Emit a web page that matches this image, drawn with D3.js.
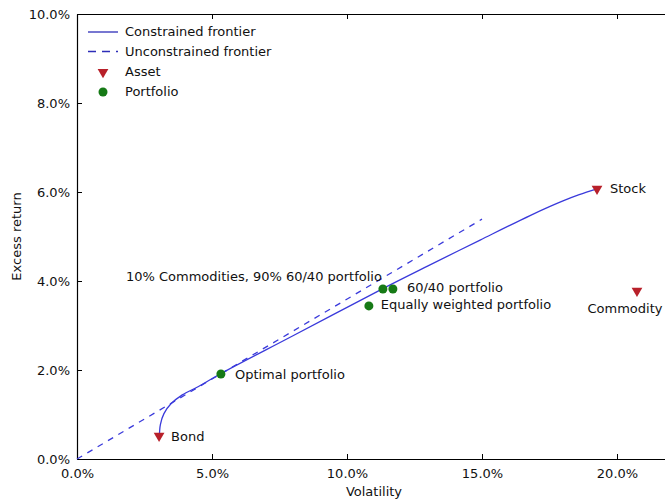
<!DOCTYPE html>
<meta charset="utf-8">
<style>
  body { margin: 0; background: #fff; }
  text { font-family: "DejaVu Sans", sans-serif; font-size: 13px; fill: #111; }
  .axis path, .axis line { stroke: #000; }
</style>
<body>
<script src="https://d3js.org/d3.v7.min.js"></script>
<script>

// frontier curves (volatility, excess return)
var constrainedFrontier = [
  [0.0305, 0.0050], [0.0309, 0.0078], [0.0322, 0.0102], [0.0348, 0.0124],
  [0.0390, 0.0144], [0.0450, 0.0163], [0.0530, 0.0191], [0.0800, 0.0277],
  [0.1133, 0.0383], [0.1300, 0.0434], [0.1493, 0.0492], [0.1678, 0.0547],
  [0.1750, 0.0567], [0.1800, 0.0580], [0.1860, 0.0594], [0.1926, 0.0607]
];
var unconstrainedFrontier = [[0.0, 0.0], [0.15, 0.0539]];

// single assets
var assetNames = ["Bond", "Stock", "Commodity"];
var assetVol = [0.0304, 0.1926, 0.2074];
var assetRet = [0.0052, 0.0607, 0.0378];

// portfolios
var portfolioNames = ["Optimal portfolio", "60/40 portfolio",
  "10% Commodities, 90% 60/40 portfolio", "Equally weighted portfolio"];
var portfolioVol = [0.0533, 0.1170, 0.1133, 0.1081];
var portfolioRet = [0.0191, 0.0382, 0.0382, 0.0344];

var xTicks = [0, 0.05, 0.10, 0.15, 0.20];
var yTicks = [0, 0.02, 0.04, 0.06, 0.08, 0.10];

var margin = { top: 14, right: -6, bottom: 40, left: 77 },
  width = 665 - margin.left - margin.right,
  height = 499 - margin.top - margin.bottom;

var x = d3.scaleLinear().domain([0, 0.22]).range([0, width]);
var y = d3.scaleLinear().domain([0, 0.10]).range([height, 0]);

var svg = d3.select("body").append("svg")
  .attr("width", 665)
  .attr("height", 499)
  .style("display", "block")
  .append("g")
  .attr("transform", "translate(" + margin.left + "," + margin.top + ")");

var fmt = d3.format(".1%");

// axes, matplotlib classic style: ticks pointing inward on all sides
svg.append("g").attr("class", "axis")
  .attr("transform", "translate(0," + height + ")")
  .call(d3.axisBottom(x).tickValues(xTicks).tickFormat(fmt).tickSizeInner(-5).tickSizeOuter(0).tickPadding(10));
svg.append("g").attr("class", "axis")
  .call(d3.axisTop(x).tickValues(xTicks).tickFormat("").tickSizeInner(-5).tickSizeOuter(0));
svg.append("g").attr("class", "axis")
  .call(d3.axisLeft(y).tickValues(yTicks).tickFormat(fmt).tickSizeInner(-5).tickSizeOuter(0).tickPadding(7));
svg.append("g").attr("class", "axis")
  .attr("transform", "translate(" + width + ",0)")
  .call(d3.axisRight(y).tickValues(yTicks).tickFormat("").tickSizeInner(-5).tickSizeOuter(0));
svg.selectAll(".axis .domain").attr("stroke-width", 1.2);
svg.selectAll(".axis text").style("font-size", "13px").attr("fill", "#222");

svg.append("text")
  .attr("x", width / 2)
  .attr("y", height + 37)
  .attr("text-anchor", "middle")
  .text("Volatility");

svg.append("text")
  .attr("transform", "rotate(-90)")
  .attr("x", -height / 2)
  .attr("y", -56)
  .attr("text-anchor", "middle")
  .text("Excess return");

var lineColor = "#3a3adb";
var line = d3.line().x(d => x(d[0])).y(d => y(d[1]));

svg.append("path")
  .datum(unconstrainedFrontier)
  .attr("fill", "none")
  .attr("stroke", lineColor)
  .attr("stroke-width", 1.3)
  .attr("stroke-dasharray", "6,6")
  .attr("d", line);

svg.append("path")
  .datum(constrainedFrontier)
  .attr("fill", "none")
  .attr("stroke", lineColor)
  .attr("stroke-width", 1.3)
  .attr("d", line.curve(d3.curveCatmullRom.alpha(0.5)));

var red = "#b8202a", green = "#167a16";
var tri = d3.symbol().type(d3.symbolTriangle).size(50);

// assets
var labelOffsets = [[12, 5], [13, 4], [-12, 22]];
assetNames.forEach(function (name, i) {
  var px = x(assetVol[i]), py = y(assetRet[i]);
  svg.append("path")
    .attr("d", tri)
    .attr("transform", "translate(" + px + "," + py + ") rotate(180)")
    .attr("fill", red);
  svg.append("text")
    .attr("x", px + labelOffsets[i][0])
    .attr("y", py + labelOffsets[i][1])
    .attr("text-anchor", i == 2 ? "middle" : "start")
    .text(name);
});

// portfolios
var pOffsets = [[14, 5], [14, 3], [-1, -8], [12, 3]];
portfolioNames.forEach(function (name, i) {
  var px = x(portfolioVol[i]), py = y(portfolioRet[i]);
  svg.append("circle")
    .attr("cx", px).attr("cy", py).attr("r", 4.5)
    .attr("fill", green);
  svg.append("text")
    .attr("x", px + pOffsets[i][0])
    .attr("y", py + pOffsets[i][1])
    .attr("text-anchor", i == 2 ? "end" : "start")
    .text(name);
});

// legend
var legend = svg.append("g").attr("transform", "translate(11,18)");
legend.append("line").attr("x1", 0).attr("x2", 30).attr("y1", 0).attr("y2", 0)
  .attr("stroke", "#2d2db8").attr("stroke-width", 1.3);
legend.append("line").attr("x1", 0).attr("x2", 30).attr("y1", 19.5).attr("y2", 19.5)
  .attr("stroke", "#2d2db8").attr("stroke-width", 1.3).attr("stroke-dasharray", "8,6");
legend.append("path").attr("d", tri)
  .attr("transform", "translate(15,40) rotate(180)").attr("fill", red);
legend.append("circle").attr("cx", 15).attr("cy", 60).attr("r", 4.5).attr("fill", green);
["Constrained frontier", "Unconstrained frontier", "Asset", "Portfolio"].forEach(function (t, i) {
  legend.append("text").attr("x", 37).attr("y", i * 20 + 4).text(t);
});

</script>
</body>
